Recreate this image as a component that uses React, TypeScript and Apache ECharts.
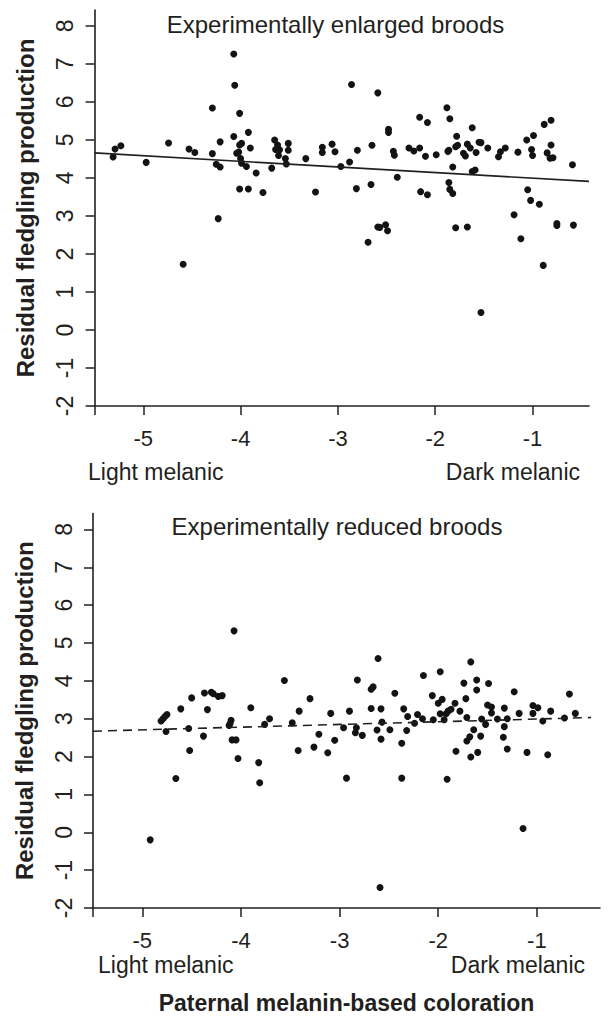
import React, { useEffect, useRef } from "react";
import * as echarts from "echarts";

// ---- Data ----
const enlargedX = [
  -5.31, -5.29, -5.23, -4.97, -4.74, -4.59, -4.53, -4.47, -4.29, -4.29, -4.25, -4.21, -4.23, -4.21,
  -4.07, -4.06, -4.07, -4.01, -4.01, -3.99, -4.04, -4.02, -4.0, -3.99, -3.94, -4.01, -3.92, -3.92,
  -3.9, -3.84, -3.77, -3.68, -3.65, -3.62, -3.64, -3.6, -3.61, -3.54, -3.53, -3.51, -3.51, -3.33,
  -3.23, -3.16, -3.16, -3.06, -3.03, -2.97, -2.86, -2.88, -2.8, -2.81, -2.66, -2.65, -2.59, -2.69,
  -2.59, -2.57, -2.51, -2.49, -2.48, -2.48, -2.43, -2.42, -2.39, -2.27, -2.22, -2.16, -2.16, -2.08,
  -2.1, -2.15, -2.08, -1.99, -1.88, -1.85, -1.87, -1.86, -1.82, -1.86, -1.85, -1.82, -1.78, -1.79,
  -1.77, -1.79, -1.71, -1.69, -1.67, -1.67, -1.64, -1.62, -1.62, -1.59, -1.58, -1.55, -1.53, -1.53,
  -1.46, -1.35, -1.33, -1.28, -1.19, -1.15, -1.12, -1.06, -1.05, -1.02, -1.01, -1.0, -0.99, -0.93,
  -0.89, -0.88, -0.81, -0.85, -0.81, -0.82, -0.79, -0.75, -0.75, -0.59, -0.58,
];
const enlargedY = [
  4.55, 4.76, 4.85, 4.41, 4.92, 1.73, 4.76, 4.67, 5.84, 4.64, 4.36, 4.29, 2.93, 4.95,
  7.26, 6.44, 5.09, 5.7, 4.87, 4.91, 4.65, 4.68, 4.51, 4.39, 4.3, 3.71, 3.71, 5.2,
  4.79, 4.13, 3.62, 4.26, 5.0, 4.87, 4.75, 4.74, 4.59, 4.51, 4.37, 4.91, 4.73, 4.51,
  3.63, 4.81, 4.67, 4.89, 4.69, 4.3, 6.46, 4.42, 4.73, 3.72, 3.83, 4.86, 6.24, 2.31,
  2.71, 2.7, 2.77, 2.61, 5.28, 5.2, 4.7, 4.6, 4.02, 4.79, 4.71, 4.79, 5.6, 5.46,
  4.57, 3.64, 3.56, 4.61, 5.85, 5.56, 4.7, 4.73, 4.29, 3.88, 3.7, 3.59, 5.1, 4.82,
  4.86, 2.69, 4.65, 4.58, 4.89, 2.71, 4.79, 5.32, 4.17, 4.21, 4.67, 4.94, 4.93, 0.46,
  4.79, 4.56, 4.69, 4.79, 3.03, 4.68, 2.4, 5.0, 3.69, 3.41, 4.75, 4.59, 5.12, 3.31,
  1.7, 5.41, 5.52, 4.66, 4.87, 4.52, 4.53, 2.75, 2.8, 4.35, 2.76,
];
const reducedX = [
  -4.92, -4.81, -4.79, -4.77, -4.75, -4.76, -4.66, -4.61, -4.53, -4.52, -4.5, -4.38, -4.37, -4.34,
  -4.3, -4.28, -4.23, -4.19, -4.07, -4.1, -4.11, -4.12, -4.09, -4.05, -4.03, -3.9, -3.82, -3.81,
  -3.76, -3.71, -3.56, -3.48, -3.41, -3.42, -3.3, -3.26, -3.21, -3.12, -3.09, -3.05, -2.96, -2.93,
  -2.9, -2.84, -2.83, -2.82, -2.77, -2.68, -2.66, -2.68, -2.61, -2.62, -2.58, -2.57, -2.58, -2.59,
  -2.49, -2.44, -2.37, -2.37, -2.35, -2.31, -2.32, -2.24, -2.21, -2.16, -2.15, -2.06, -2.05, -1.98,
  -2.0, -1.96, -1.98, -1.94, -1.92, -1.9, -1.87, -1.91, -1.83, -1.78, -1.82, -1.74, -1.72, -1.71,
  -1.67, -1.64, -1.68, -1.71, -1.67, -1.61, -1.61, -1.6, -1.57, -1.56, -1.52, -1.49, -1.5, -1.46,
  -1.46, -1.4, -1.33, -1.33, -1.34, -1.3, -1.3, -1.23, -1.18, -1.14, -1.1, -1.04, -1.04, -0.99,
  -0.94, -0.89, -0.86, -0.72, -0.67, -0.61,
];
const reducedY = [
  -0.2, 2.94, 3.0, 3.06, 3.11, 2.66, 1.42, 3.26, 2.74, 2.16, 3.55, 2.54, 3.68, 3.24,
  3.7, 3.66, 3.59, 3.61, 5.32, 2.96, 2.87, 2.82, 2.44, 2.44, 1.95, 3.29, 1.84, 1.31,
  2.85, 3.0, 4.01, 2.89, 3.2, 2.16, 3.53, 2.25, 2.59, 2.1, 3.14, 2.43, 2.76, 1.43,
  3.2, 2.63, 2.76, 4.02, 2.56, 3.78, 3.84, 3.27, 4.59, 2.7, 3.26, 2.91, 2.46, -1.46,
  2.71, 3.67, 2.35, 1.43, 3.26, 3.06, 2.69, 2.88, 3.11, 3.0, 4.14, 3.61, 2.97, 4.24,
  3.41, 3.51, 3.13, 2.97, 3.13, 3.2, 3.25, 1.4, 3.41, 3.2, 2.14, 3.94, 3.53, 3.03,
  4.5, 2.71, 2.52, 2.41, 1.99, 4.02, 3.76, 2.11, 2.54, 2.99, 2.85, 3.93, 3.36, 3.31,
  3.15, 2.99, 3.28, 2.79, 2.51, 2.2, 3.0, 3.71, 3.14, 0.1, 2.11, 3.35, 3.14, 3.29,
  2.94, 2.05, 3.2, 3.02, 3.65, 3.14,
];
// Fitted regression lines (end points)
const enlargedFitX = [-5.5, -0.42];
const enlargedFitY = [4.66, 3.91];
const reducedFitX = [-5.5, -0.45];
const reducedFitY = [2.67, 3.03];

const xTickValues = [-5, -4, -3, -2, -1];
const xTickMarks = [-5.5, -5, -4, -3, -2, -1];
const yTickValues = [-2, -1, 0, 1, 2, 3, 4, 5, 6, 7, 8];
const panelTitles = ["Experimentally enlarged broods", "Experimentally reduced broods"];
const endLabels = ["Light melanic", "Dark melanic"];
const yAxisTitle = "Residual fledgling production";
const xAxisTitle = "Paternal melanin-based coloration";

const INK = "#231f20";
const DOT = "#141213";
const FONT = "'Liberation Sans', Arial, Helvetica, sans-serif";

function zip(xs: number[], ys: number[]) {
  return xs.map((x, i) => [x, ys[i]]);
}

function makeXAxis(gridIndex: number, max: number, withName: boolean) {
  return {
    type: "value",
    gridIndex,
    min: -5.5,
    max,
    splitLine: { show: false },
    axisLine: { show: true, onZero: false, lineStyle: { color: INK, width: 1.6 } },
    axisTick: {
      show: true,
      length: 9,
      customValues: xTickMarks,
      lineStyle: { color: INK, width: 1.5 },
    },
    axisLabel: {
      customValues: xTickValues,
      fontSize: 22,
      margin: 21,
      color: INK,
      fontFamily: FONT,
    },
    name: withName ? xAxisTitle : "",
    nameLocation: "middle",
    nameGap: 83,
    nameTextStyle: { fontSize: 23, fontWeight: "bold", color: INK, fontFamily: FONT },
  };
}

function makeYAxis(gridIndex: number) {
  return {
    type: "value",
    gridIndex,
    min: -2,
    max: 8.42,
    splitLine: { show: false },
    axisLine: { show: true, onZero: false, lineStyle: { color: INK, width: 1.6 } },
    axisTick: {
      show: true,
      length: 9,
      customValues: yTickValues,
      lineStyle: { color: INK, width: 1.5 },
    },
    axisLabel: {
      customValues: yTickValues,
      rotate: 90,
      fontSize: 23,
      margin: 18,
      color: INK,
      fontFamily: FONT,
    },
    name: yAxisTitle,
    nameLocation: "middle",
    nameGap: 57,
    nameTextStyle: { fontSize: 24, fontWeight: "bold", color: INK, fontFamily: FONT },
  };
}

function textEl(text: string, x: number, y: number, align: string, size: number) {
  return {
    type: "text",
    x,
    y,
    style: {
      text,
      fill: INK,
      font: `${size}px ${FONT}`,
      textAlign: align,
      textVerticalAlign: "middle",
    },
  };
}

function scatterSeries(idx: number, xs: number[], ys: number[]) {
  return {
    type: "scatter",
    xAxisIndex: idx,
    yAxisIndex: idx,
    symbol: "circle",
    symbolSize: 7,
    itemStyle: { color: DOT, opacity: 1 },
    emphasis: { disabled: true },
    data: zip(xs, ys),
  };
}

export default function App() {
  const ref = useRef<HTMLDivElement>(null);

  useEffect(() => {
    document.body.style.margin = "0";
    if (!ref.current) return;
    const chart = echarts.init(ref.current, null, { renderer: "svg" });
    chart.setOption({
      animation: false,
      backgroundColor: "#ffffff",
      grid: [
        { left: 94.6, top: 10, width: 494.4, height: 396 },
        { left: 93, top: 513.5, width: 507, height: 394.5 },
      ],
      xAxis: [makeXAxis(0, -0.42, false), makeXAxis(1, -0.36, true)],
      yAxis: [makeYAxis(0), makeYAxis(1)],
      series: [
        scatterSeries(0, enlargedX, enlargedY),
        {
          type: "line",
          xAxisIndex: 0,
          yAxisIndex: 0,
          showSymbol: false,
          lineStyle: { color: INK, width: 1.6, type: "solid" },
          data: zip(enlargedFitX, enlargedFitY),
        },
        scatterSeries(1, reducedX, reducedY),
        {
          type: "line",
          xAxisIndex: 1,
          yAxisIndex: 1,
          showSymbol: false,
          lineStyle: { color: INK, width: 1.6, type: [9, 6] },
          data: zip(reducedFitX, reducedFitY),
        },
      ],
      graphic: [
        textEl(panelTitles[0], 335.5, 24, "center", 24),
        textEl(panelTitles[1], 337, 526, "center", 24),
        textEl(endLabels[0], 88, 472, "left", 23),
        textEl(endLabels[1], 580, 472, "right", 23),
        textEl(endLabels[0], 98, 965, "left", 23),
        textEl(endLabels[1], 585, 965, "right", 23),
      ],
    });
    return () => chart.dispose();
  }, []);

  return <div ref={ref} style={{ width: 611, height: 1019 }} />;
}
